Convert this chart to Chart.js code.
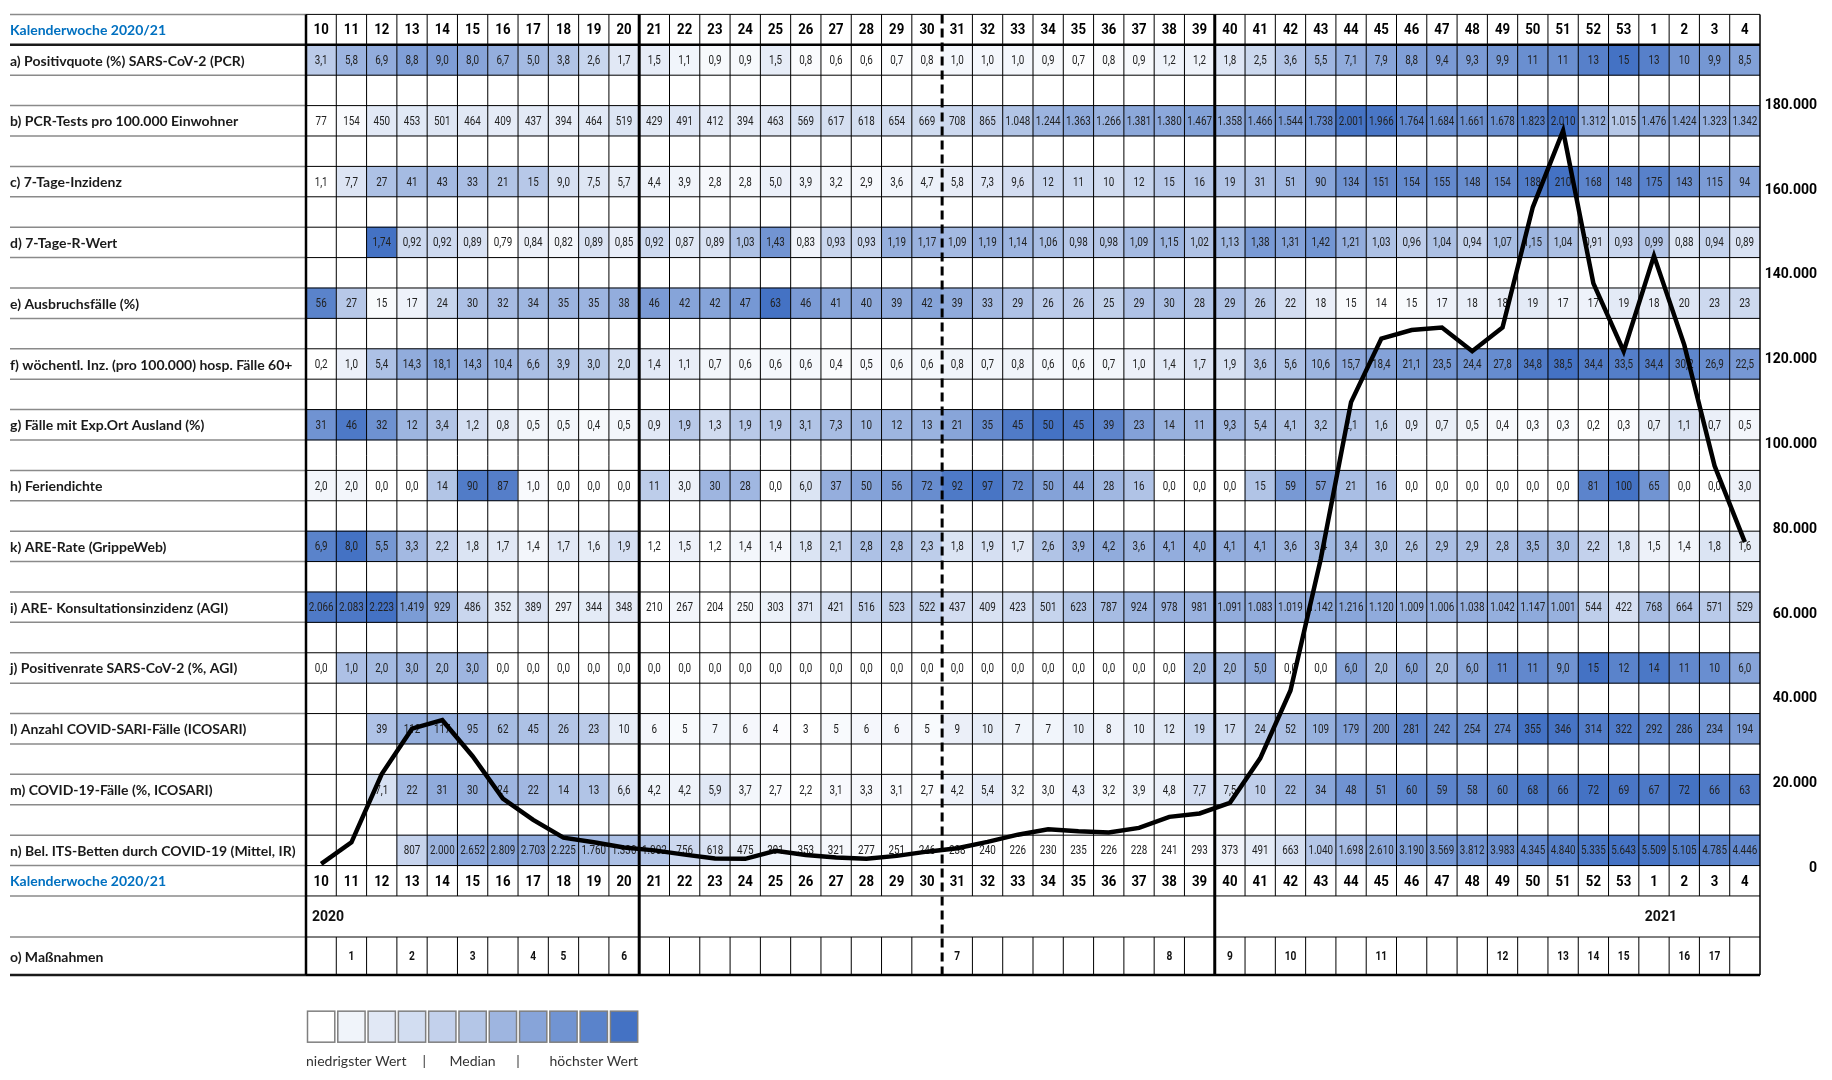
<!DOCTYPE html>
<html lang="de">
<head>
<meta charset="utf-8">
<title>Kalenderwoche 2020/21</title>
<script src="https://cdn.jsdelivr.net/npm/chart.js@4.4.1/dist/chart.umd.min.js"></script>
<style>
  html, body { margin: 0; padding: 0; background: #fff; }
  #wrap { width: 1832px; height: 1080px; position: relative; }
</style>
</head>
<body>
<div id="wrap"><canvas id="myChart"></canvas></div>
<script>
// Kalenderwochen 2020/21
const weeks = ['10','11','12','13','14','15','16','17','18','19','20',
  '21','22','23','24','25','26','27','28','29','30',
  '31','32','33','34','35','36','37','38','39',
  '40','41','42','43','44','45','46','47','48','49','50','51','52','53',
  '1','2','3','4'];

const positivquote = [3.1,5.8,6.9,8.8,9.0,8.0,6.7,5.0,3.8,2.6,1.7, 1.5,1.1,0.9,0.9,1.5,0.8,0.6,0.6,0.7,0.8,
  1.0,1.0,1.0,0.9,0.7,0.8,0.9,1.2,1.2, 1.8,2.5,3.6,5.5,7.1,7.9,8.8,9.4,9.3,9.9,11,11,13,15, 13,10,9.9,8.5];
const pcrTests = [77,154,450,453,501,464,409,437,394,464,519, 429,491,412,394,463,569,617,618,654,669,
  708,865,1048,1244,1363,1266,1381,1380,1467, 1358,1466,1544,1738,2001,1966,1764,1684,1661,1678,1823,2010,1312,1015,
  1476,1424,1323,1342];
const inzidenz7 = [1.1,7.7,27,41,43,33,21,15,9.0,7.5,5.7, 4.4,3.9,2.8,2.8,5.0,3.9,3.2,2.9,3.6,4.7,
  5.8,7.3,9.6,12,11,10,12,15,16, 19,31,51,90,134,151,154,155,148,154,188,210,168,148, 175,143,115,94];
const rWert = [null,null,1.74,0.92,0.92,0.89,0.79,0.84,0.82,0.89,0.85, 0.92,0.87,0.89,1.03,1.43,0.83,0.93,0.93,1.19,1.17,
  1.09,1.19,1.14,1.06,0.98,0.98,1.09,1.15,1.02, 1.13,1.38,1.31,1.42,1.21,1.03,0.96,1.04,0.94,1.07,1.15,1.04,0.91,0.93,
  0.99,0.88,0.94,0.89];
const ausbruch = [56,27,15,17,24,30,32,34,35,35,38, 46,42,42,47,63,46,41,40,39,42,
  39,33,29,26,26,25,29,30,28, 29,26,22,18,15,14,15,17,18,18,19,17,17,19, 18,20,23,23];
const hosp60 = [0.2,1.0,5.4,14.3,18.1,14.3,10.4,6.6,3.9,3.0,2.0, 1.4,1.1,0.7,0.6,0.6,0.6,0.4,0.5,0.6,0.6,
  0.8,0.7,0.8,0.6,0.6,0.7,1.0,1.4,1.7, 1.9,3.6,5.6,10.6,15.7,18.4,21.1,23.5,24.4,27.8,34.8,38.5,34.4,33.5,
  34.4,30.2,26.9,22.5];
const auslandExp = [31,46,32,12,3.4,1.2,0.8,0.5,0.5,0.4,0.5, 0.9,1.9,1.3,1.9,1.9,3.1,7.3,10,12,13,
  21,35,45,50,45,39,23,14,11, 9.3,5.4,4.1,3.2,2.1,1.6,0.9,0.7,0.5,0.4,0.3,0.3,0.2,0.3, 0.7,1.1,0.7,0.5];
const feriendichte = [2.0,2.0,0.0,0.0,14,90,87,1.0,0.0,0.0,0.0, 11,3.0,30,28,0.0,6.0,37,50,56,72,
  92,97,72,50,44,28,16,0.0,0.0, 0.0,15,59,57,21,16,0.0,0.0,0.0,0.0,0.0,0.0,81,100, 65,0.0,0.0,3.0];
const areRate = [6.9,8.0,5.5,3.3,2.2,1.8,1.7,1.4,1.7,1.6,1.9, 1.2,1.5,1.2,1.4,1.4,1.8,2.1,2.8,2.8,2.3,
  1.8,1.9,1.7,2.6,3.9,4.2,3.6,4.1,4.0, 4.1,4.1,3.6,3.4,3.4,3.0,2.6,2.9,2.9,2.8,3.5,3.0,2.2,1.8, 1.5,1.4,1.8,1.6];
const areKonsultation = [2066,2083,2223,1419,929,486,352,389,297,344,348, 210,267,204,250,303,371,421,516,523,522,
  437,409,423,501,623,787,924,978,981, 1091,1083,1019,1142,1216,1120,1009,1006,1038,1042,1147,1001,544,422,
  768,664,571,529];
const positivenrateAgi = [0.0,1.0,2.0,3.0,2.0,3.0,0.0,0.0,0.0,0.0,0.0, 0,0,0,0,0,0,0,0,0,0,
  0,0,0,0,0,0,0,0,2.0, 2.0,5.0,0.0,0.0,6.0,2.0,6.0,2.0,6.0,11,11,9.0,15,12, 14,11,10,6.0];
const sariFaelle = [null,null,39,112,117,95,62,45,26,23,10, 6,5,7,6,4,3,5,6,6,5,
  9,10,7,7,10,8,10,12,19, 17,24,52,109,179,200,281,242,254,274,355,346,314,322, 292,286,234,194];
const covidIcosari = [null,null,7.1,22,31,30,24,22,14,13,6.6, 4.2,4.2,5.9,3.7,2.7,2.2,3.1,3.3,3.1,2.7,
  4.2,5.4,3.2,3.0,4.3,3.2,3.9,4.8,7.7, 7.5,10,22,34,48,51,60,59,58,60,68,66,72,69, 67,72,66,63];
const itsBetten = [null,null,null,807,2000,2652,2809,2703,2225,1760,1330, 1002,756,618,475,391,353,321,277,251,246,
  238,240,226,230,235,226,228,241,293, 373,491,663,1040,1698,2610,3190,3569,3812,3983,4345,4840,5335,5643,
  5509,5105,4785,4446];
const massnahmen = [null,1,null,2,null,3,null,4,5,null,6, null,null,null,null,null,null,null,null,null,null,
  7,null,null,null,null,null,null,8,null, 9,null,10,null,null,11,null,null,null,12,null,13,14,15, null,16,17,null];

// Linie: wöchentliche Fälle (rechte Achse)
const weeklyCases = [1100,6200,22300,33000,35000,26500,16500,11500,7300,6200,5000,
  4300,3300,2400,2300,4200,3200,2600,2300,3000,4000,
  4800,6300,8000,9300,8800,8500,9600,12200,13000,
  15500,26000,42000,73000,110000,125000,127000,127600,122000,127600,156000,174000,138000,122000,
  144500,123500,95000,77000];
const caseTicks = [0,20000,40000,60000,80000,100000,120000,140000,160000,180000];

const yearLabels = ['2020','2021'];
const yearStartWeeks = ['10','1'];
const legendTexts = ['niedrigster Wert','|','Median','|','höchster Wert'];

const heatRows = [
  {label:'a) Positivquote (%) SARS-CoV-2 (PCR)', values:positivquote, kind:'sig'},
  {label:'b) PCR-Tests pro 100.000 Einwohner', values:pcrTests, kind:'int'},
  {label:'c) 7-Tage-Inzidenz', values:inzidenz7, kind:'sig'},
  {label:'d) 7-Tage-R-Wert', values:rWert, kind:'d2'},
  {label:'e) Ausbruchsfälle (%)', values:ausbruch, kind:'int'},
  {label:'f) wöchentl. Inz. (pro 100.000) hosp. Fälle 60+', values:hosp60, kind:'d1'},
  {label:'g) Fälle mit Exp.Ort Ausland (%)', values:auslandExp, kind:'sig'},
  {label:'h) Feriendichte', values:feriendichte, kind:'sig'},
  {label:'k) ARE-Rate (GrippeWeb)', values:areRate, kind:'d1'},
  {label:'i) ARE- Konsultationsinzidenz (AGI)', values:areKonsultation, kind:'int'},
  {label:'j) Positivenrate SARS-CoV-2 (%, AGI)', values:positivenrateAgi, kind:'sig'},
  {label:'l) Anzahl COVID-SARI-Fälle (ICOSARI)', values:sariFaelle, kind:'int'},
  {label:'m) COVID-19-Fälle (%, ICOSARI)', values:covidIcosari, kind:'sig'},
  {label:'n) Bel. ITS-Betten durch COVID-19 (Mittel, IR)', values:itsBetten, kind:'int'}
];

// row layout in "sub-row" units of the hidden y scale
const ROW_FOOT = 28, ROW_YEAR = 29, ROW_MASS = 30.35, ROW_END = 31.6;
const sepA = weeks.indexOf('21'), sepB = weeks.indexOf('40'), sepDash = weeks.indexOf('31');

const colMin = [255,255,255], colMid = [180,198,231], colMax = [68,114,196];
function mix(a, b, t) { return a.map((v, i) => Math.round(v + (b[i] - v) * t)); }
function scaleColor(t) {
  const c = t <= 0.5 ? mix(colMin, colMid, t * 2) : mix(colMid, colMax, (t - 0.5) * 2);
  return 'rgb(' + c.join(',') + ')';
}
function rowColors(vals) {
  const s = vals.filter(v => v != null).sort((a, b) => a - b);
  const lo = s[0], hi = s[s.length - 1], n = s.length;
  const med = n % 2 ? s[(n - 1) / 2] : (s[n / 2 - 1] + s[n / 2]) / 2;
  return vals.map(v => {
    if (v == null) return 'rgba(0,0,0,0)';
    let t;
    if (v <= lo) t = 0;
    else if (v >= hi) t = 1;
    else if (v <= med) t = med > lo ? 0.5 * (v - lo) / (med - lo) : 0.5;
    else t = 0.5 + 0.5 * (v - med) / (hi - med);
    return scaleColor(t);
  });
}

function fmtInt(v) { return Math.round(v).toString().replace(/\B(?=(\d{3})+(?!\d))/g, '.'); }
function fmt(v, kind) {
  if (kind === 'int') return fmtInt(v);
  if (kind === 'd2') return v.toFixed(2).replace('.', ',');
  if (kind === 'd1') return v.toFixed(1).replace('.', ',');
  return (v < 10 ? v.toFixed(1) : v.toFixed(0)).replace('.', ',');
}

function squeeze(ctx, text, x, y, maxW, sx) {
  const w = ctx.measureText(text).width;
  const k = Math.min(sx, maxW / w);
  ctx.save();
  ctx.translate(x, y);
  ctx.scale(k, 1);
  ctx.fillText(text, 0, 0);
  ctx.restore();
}

function line(ctx, x1, y1, x2, y2, color, width, dash) {
  ctx.beginPath();
  ctx.strokeStyle = color;
  ctx.lineWidth = width;
  ctx.setLineDash(dash || []);
  ctx.moveTo(x1, y1);
  ctx.lineTo(x2, y2);
  ctx.stroke();
  ctx.setLineDash([]);
}

function helpers(chart) {
  const xs = chart.scales.x, ys = chart.scales.y;
  const half = (xs.getPixelForValue(1) - xs.getPixelForValue(0)) / 2;
  const edge = i => i < weeks.length ? xs.getPixelForValue(i) - half : xs.getPixelForValue(weeks.length - 1) + half;
  const yp = s => ys.getPixelForValue(s);
  return {xs, ys, half, edge, yp};
}

function drawTable(chart) {
  const ctx = chart.ctx;
  const {xs, half, edge, yp} = helpers(chart);
  const x0 = edge(0), x1 = edge(weeks.length), labelX = 10;
  ctx.save();

  // horizontal lines
  const bounds = [];
  for (let s = 0; s <= ROW_YEAR; s++) bounds.push(s);
  bounds.push(ROW_MASS, ROW_END);
  bounds.forEach(s => {
    const y = yp(s);
    const thick = s === 1 || s === ROW_END;
    line(ctx, labelX, y, x0, y, thick ? '#1a1a1a' : '#8a8a8a', thick ? 2.5 : 1.5);
    line(ctx, x0, y, x1, y, '#000', thick ? 2.5 : 1);
  });

  // vertical lines
  for (let i = 1; i < weeks.length; i++) {
    if (i === sepA || i === sepB || i === sepDash) continue;
    line(ctx, edge(i), yp(0), edge(i), yp(ROW_YEAR), '#000', 1);
    line(ctx, edge(i), yp(ROW_MASS), edge(i), yp(ROW_END), '#000', 1);
  }
  line(ctx, x0, yp(0), x0, yp(ROW_END), '#000', 2.5);
  line(ctx, x1, yp(0), x1, yp(ROW_END), '#000', 1.5);
  line(ctx, edge(sepA), yp(0), edge(sepA), yp(ROW_END), '#000', 3);
  line(ctx, edge(sepB), yp(0), edge(sepB), yp(ROW_END), '#000', 3);
  line(ctx, edge(sepDash), yp(0), edge(sepDash), yp(ROW_END), '#000', 3, [9, 5]);

  ctx.textBaseline = 'middle';
  ctx.textAlign = 'center';

  // week numbers
  ctx.font = 'bold 15px Roboto';
  ctx.fillStyle = '#000';
  weeks.forEach((w, i) => {
    [0.5, ROW_FOOT + 0.5].forEach(s => squeeze(ctx, w, xs.getPixelForValue(i), yp(s) + 1, 2 * half - 4, 0.88));
  });

  // cell values
  ctx.font = '12px Roboto';
  ctx.fillStyle = '#222';
  heatRows.forEach((row, k) => {
    const yc = yp(1 + 2 * k + 0.5) + 1;
    row.values.forEach((v, i) => {
      if (v == null) return;
      squeeze(ctx, fmt(v, row.kind), xs.getPixelForValue(i), yc, 2 * half - 3, 0.82);
    });
  });

  // Maßnahmen
  ctx.font = 'bold 12px Roboto';
  ctx.fillStyle = '#111';
  massnahmen.forEach((m, i) => {
    if (m == null) return;
    squeeze(ctx, String(m), xs.getPixelForValue(i), yp((ROW_MASS + ROW_END) / 2) + 1, 2 * half - 4, 0.85);
  });

  // year labels
  ctx.textAlign = 'left';
  ctx.font = 'bold 14px Roboto';
  yearLabels.forEach((t, j) => {
    ctx.fillText(t, edge(weeks.indexOf(yearStartWeeks[j])) + 6, yp((ROW_YEAR + ROW_MASS) / 2) + 1);
  });

  // row labels
  ctx.font = 'bold 14px Lato';
  ctx.fillStyle = '#1a1a1a';
  heatRows.forEach((row, k) => ctx.fillText(row.label, labelX, yp(1 + 2 * k + 0.5) + 1));
  ctx.fillText('o) Maßnahmen', labelX, yp((ROW_MASS + ROW_END) / 2) + 1);
  ctx.fillStyle = '#0070c0';
  ctx.fillText('Kalenderwoche 2020/21', labelX, yp(0.5) + 1);
  ctx.fillText('Kalenderwoche 2020/21', labelX, yp(ROW_FOOT + 0.5) + 1);
  ctx.restore();
}

function drawLegend(chart) {
  const ctx = chart.ctx;
  const {xs, half, edge, yp} = helpers(chart);
  ctx.save();
  const steps = 11;
  const top = yp(32.79), bot = yp(33.81);
  for (let i = 0; i < steps; i++) {
    const x = edge(i) + 1.5, w = 2 * half - 3;
    ctx.fillStyle = scaleColor(i / (steps - 1));
    ctx.fillRect(x, top, w, bot - top);
    ctx.strokeStyle = '#7f7f7f';
    ctx.lineWidth = 1.5;
    ctx.strokeRect(x, top, w, bot - top);
  }
  ctx.font = '14px Lato';
  ctx.fillStyle = '#333';
  ctx.textBaseline = 'middle';
  const ty = yp(34.46);
  ctx.textAlign = 'left';
  ctx.fillText(legendTexts[0], edge(0), ty);
  ctx.textAlign = 'center';
  ctx.fillText(legendTexts[1], edge(4) - 3, ty);
  ctx.fillText(legendTexts[2], xs.getPixelForValue(5), ty);
  ctx.fillText(legendTexts[3], edge(7), ty);
  ctx.fillText(legendTexts[4], xs.getPixelForValue(9), ty);
  ctx.restore();
}

const datasets = heatRows.map((row, k) => ({
  type: 'bar',
  data: row.values.map(v => v == null ? null : [1 + 2 * k, 2 + 2 * k]),
  backgroundColor: rowColors(row.values),
  borderWidth: 0,
  grouped: false,
  barPercentage: 1,
  categoryPercentage: 1,
  xAxisID: 'x',
  yAxisID: 'y',
  order: 1
}));
datasets.push({
  type: 'line',
  data: weeklyCases,
  borderColor: '#000',
  borderWidth: 4.5,
  borderJoinStyle: 'miter',
  pointRadius: 0,
  tension: 0,
  xAxisID: 'x',
  yAxisID: 'y2',
  order: 0
});
const lineIndex = datasets.length - 1;

const tablePlugin = {
  id: 'tablePlugin',
  beforeDatasetDraw(chart, args) {
    if (args.index === lineIndex) drawTable(chart);
  },
  afterDraw(chart) { drawLegend(chart); }
};

let chart;
window.onload = function() {
  const ctx = document.getElementById('myChart').getContext('2d');
  chart = new Chart(ctx, {
    type: 'bar',
    data: { labels: weeks, datasets: datasets },
    options: {
      responsive: true,
      maintainAspectRatio: false,
      animation: false,
      layout: { padding: { left: 306, right: 15, top: 5, bottom: 105 } },
      plugins: { legend: { display: false }, tooltip: { enabled: false } },
      scales: {
        x: { type: 'category', display: false, offset: true, grid: { display: false } },
        y: { type: 'linear', display: false, reverse: true, min: 0, max: ROW_END },
        y2: {
          type: 'linear',
          position: 'right',
          min: -25090,
          max: 201434,
          grid: { display: false },
          border: { display: false },
          afterBuildTicks: s => { s.ticks = caseTicks.map(v => ({ value: v })); },
          afterFit: s => { s.width = 57; },
          ticks: {
            crossAlign: 'far',
            padding: 6,
            color: '#000',
            font: { family: 'Roboto', size: 14, weight: 'bold' },
            callback: v => fmtInt(v)
          }
        }
      }
    },
    plugins: [tablePlugin]
  });
};
</script>
</body>
</html>
